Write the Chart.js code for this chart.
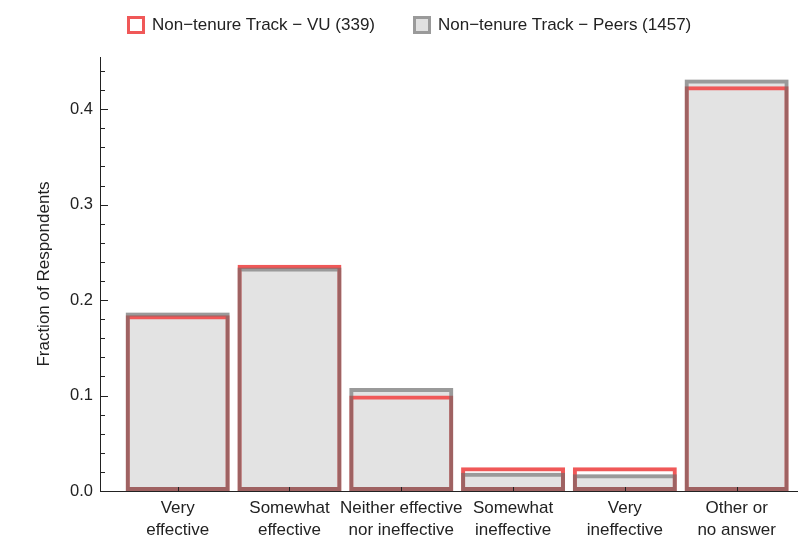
<!DOCTYPE html>
<html>
<head>
<meta charset="utf-8">
<script src="https://cdn.jsdelivr.net/npm/chart.js@4.4.1/dist/chart.umd.min.js"></script>
<style>
  body { margin: 0; background: #fff; font-family: "Liberation Sans", Arial, sans-serif; }
  #wrap { position: relative; width: 800px; height: 539px; }
  .item { position: absolute; top: 16px; display: flex; align-items: center; height: 18px; color: #222; font-size: 17px; white-space: nowrap; }
  .box { width: 18px; height: 18px; box-sizing: border-box; border: 3px solid; margin-right: 7px; }
</style>
</head>
<body>
<div id="wrap">
  <canvas id="chart"></canvas>
  <div id="legend"></div>
</div>
<script>
const categories = [
    ['Very', 'effective'],
    ['Somewhat', 'effective'],
    ['Neither effective', 'nor ineffective'],
    ['Somewhat', 'ineffective'],
    ['Very', 'ineffective'],
    ['Other or', 'no answer']
];
const positions = [1, 2, 3, 4, 5, 6];
const vuValues = [0.184, 0.237, 0.100, 0.025, 0.025, 0.424];
const peersValues = [0.187, 0.234, 0.108, 0.019, 0.0175, 0.431];
const yTicks = [0, 0.1, 0.2, 0.3, 0.4];
const vuLabel = 'Non\u2212tenure Track \u2212 VU (339)';
const peersLabel = 'Non\u2212tenure Track \u2212 Peers (1457)';

const RED = 'rgb(240, 88, 88)';
const GRAY_EDGE = 'rgba(105, 105, 105, 0.6)';
const GRAY_FILL = '#e3e3e3';

// legend
const legend = document.getElementById('legend');
[[vuLabel, RED, '#fff', 127], [peersLabel, '#9a9a9a', '#e0e0e0', 413]].forEach(([txt, edge, fill, left]) => {
    const item = document.createElement('div');
    item.className = 'item';
    item.style.left = left + 'px';
    item.innerHTML = `<span class="box" style="border-color:${edge};background:${fill}"></span><span>${txt}</span>`;
    legend.appendChild(item);
});

const toPoints = vals => vals.map((v, i) => ({ x: positions[i], y: v }));

// inward tick marks like the original
const innerTicks = {
    id: 'innerTicks',
    afterDatasetsDraw(chart) {
        const { ctx, chartArea, scales: { x, y } } = chart;
        ctx.save();
        ctx.strokeStyle = '#222';
        ctx.lineWidth = 1;
        ctx.beginPath();
        for (let k = 0; k <= 22; k++) {
            const v = k * 0.02;
            const py = Math.round(y.getPixelForValue(v)) + 0.5;
            const len = k % 5 === 0 ? 8 : 5;
            ctx.moveTo(chartArea.left, py);
            ctx.lineTo(chartArea.left + len, py);
        }
        positions.forEach(p => {
            const px = Math.round(x.getPixelForValue(p)) + 0.5;
            ctx.moveTo(px, chartArea.bottom);
            ctx.lineTo(px, chartArea.bottom - 4);
        });
        ctx.stroke();
        ctx.restore();
    }
};

const ctx = document.getElementById('chart').getContext('2d');
new Chart(ctx, {
    type: 'bar',
    data: {
        datasets: [
            {
                label: 'peers fill',
                data: toPoints(peersValues),
                backgroundColor: GRAY_FILL,
                borderWidth: 0,
                order: 3
            },
            {
                label: vuLabel,
                data: toPoints(vuValues),
                backgroundColor: 'rgba(0,0,0,0)',
                borderColor: RED,
                borderWidth: 4,
                borderSkipped: false,
                order: 2
            },
            {
                label: peersLabel,
                data: toPoints(peersValues),
                backgroundColor: 'rgba(0,0,0,0)',
                borderColor: GRAY_EDGE,
                borderWidth: 4,
                borderSkipped: false,
                order: 1
            }
        ]
    },
    options: {
        responsive: true,
        maintainAspectRatio: false,
        animation: false,
        grouped: false,
        barPercentage: 0.93,
        categoryPercentage: 1,
        layout: { padding: { top: 57, right: 3, left: 0, bottom: 0 } },
        plugins: {
            legend: { display: false },
            tooltip: { enabled: false }
        },
        scales: {
            x: {
                type: 'linear',
                offset: false,
                min: 0.305,
                max: 6.54,
                afterBuildTicks: s => { s.ticks = positions.map(v => ({ value: v })); },
                afterFit: s => { s.height = 48; },
                grid: { display: false, drawTicks: false, offset: false },
                border: { display: true, color: '#222', width: 1, z: 1 },
                ticks: {
                    autoSkip: false,
                    maxRotation: 0,
                    padding: 6,
                    color: '#222',
                    font: { family: 'Liberation Sans', size: 17, lineHeight: '22px' },
                    callback: (value, index) => categories[index]
                }
            },
            y: {
                min: 0,
                max: 0.4546,
                afterBuildTicks: s => { s.ticks = yTicks.map(v => ({ value: v })); },
                afterFit: s => { s.width = 100; },
                grid: { display: false, drawTicks: false },
                border: { display: true, color: '#222', width: 1, z: 1 },
                ticks: {
                    padding: 7,
                    color: '#222',
                    font: { family: 'Liberation Sans', size: 16.5 },
                    callback: v => v.toFixed(1)
                },
                title: {
                    display: true,
                    text: 'Fraction of Respondents',
                    color: '#222',
                    font: { family: 'Liberation Sans', size: 17 },
                    padding: { top: 34, bottom: 0 }
                }
            }
        }
    },
    plugins: [innerTicks]
});
</script>
</body>
</html>
